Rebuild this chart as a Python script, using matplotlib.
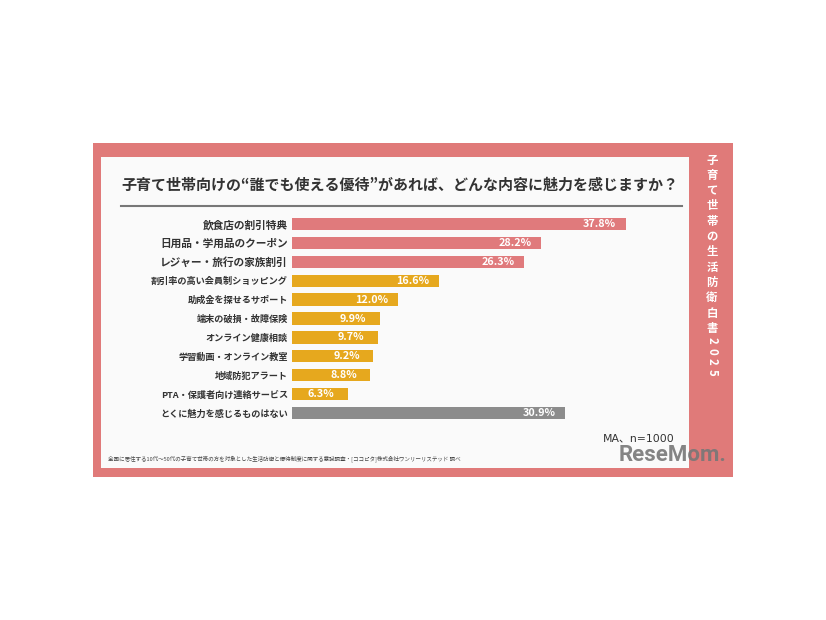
import matplotlib
matplotlib.use("Agg")
import matplotlib.pyplot as plt
from matplotlib.patches import Rectangle
from matplotlib.lines import Line2D

plt.rcParams['font.family'] = ['Noto Sans CJK JP', 'DejaVu Sans']

# ---- data ----
categories = [
    "飲食店の割引特典",
    "日用品・学用品のクーポン",
    "レジャー・旅行の家族割引",
    "割引率の高い会員制ショッピング",
    "助成金を探せるサポート",
    "端末の破損・故障保険",
    "オンライン健康相談",
    "学習動画・オンライン教室",
    "地域防犯アラート",
    "PTA・保護者向け連絡サービス",
    "とくに魅力を感じるものはない",
]
values = [37.8, 28.2, 26.3, 16.6, 12.0, 9.9, 9.7, 9.2, 8.8, 6.3, 30.9]
groups = ["top", "top", "top", "mid", "mid", "mid", "mid", "mid", "mid", "mid", "none"]

title = "子育て世帯向けの“誰でも使える優待”があれば、どんな内容に魅力を感じますか？"
side_title = "子育て世帯の生活防衛白書"
side_year = "2025"
note = "全国に居住する10代～50代の子育て世帯の方を対象とした生活防衛と優待制度に関する意識調査・[ココピタ]株式会社ワンリーリステッド 調べ"
sample = "MA、n=1000"

colors = {"top": "#E07A7C", "mid": "#E6A81E", "none": "#8C8C8C"}

W, H = 826, 620
fig = plt.figure(figsize=(W / 100, H / 100), dpi=100)
fig.patch.set_facecolor("white")

def fx(x):
    return x / W

def fy(y):
    return 1 - y / H

# frame and inner panel
fig.add_artist(Rectangle((fx(93), fy(477)), (733 - 93) / W, (477 - 143) / H,
                         transform=fig.transFigure, facecolor="#E07A79", edgecolor="none", zorder=0))
fig.add_artist(Rectangle((fx(101), fy(468)), (689 - 101) / W, (468 - 157) / H,
                         transform=fig.transFigure, facecolor="#FAFAFA", edgecolor="none", zorder=0))

# title and rule
fig.text(fx(400), fy(185), title, ha="center", va="center", fontsize=10.8,
         fontweight="bold", color="#333333")
fig.add_artist(Line2D([fx(121), fx(682)], [fy(206), fy(206)], transform=fig.transFigure,
                      color="#777777", linewidth=1.5))

# bars axes
px_per_pct = 8.84
ax_left, ax_right = 292, 689
ax_top, ax_bottom = 214.5, 422.5
ax = fig.add_axes([fx(ax_left), fy(ax_bottom), (ax_right - ax_left) / W, (ax_bottom - ax_top) / H])
ax.set_facecolor("none")
ax.set_xlim(0, (ax_right - ax_left) / px_per_pct)
ax.set_ylim(len(categories) - 0.5, -0.5)
ypos = list(range(len(categories)))
ax.barh(ypos, values, height=0.65, color=[colors[g] for g in groups], edgecolor="none")
for s in ax.spines.values():
    s.set_visible(False)
ax.set_xticks([])
ax.set_yticks(ypos)
ax.set_yticklabels(categories)
ax.tick_params(axis="y", length=0, pad=3)
for lab, g in zip(ax.get_yticklabels(), groups):
    lab.set_fontsize(7.7 if g == "top" else 6.6)
    lab.set_fontweight("bold")
    lab.set_color("#333333")

for y, v in zip(ypos, values):
    ax.annotate(f"{v:.1f}%", xy=(v, y), xytext=(-19, 0), textcoords="offset points",
                ha="center", va="center", color="white", fontsize=7.8, fontweight="bold",
                family=["Noto Sans CJK JP"])

# vertical side title
y0 = 160
for i, ch in enumerate(side_title):
    fig.text(fx(712), fy(y0 + i * 15.3), ch, ha="center", va="center", fontsize=8.2,
             fontweight="bold", color="white")
yd = y0 + len(side_title) * 15.3 - 3
for j, ch in enumerate(side_year):
    fig.text(fx(712), fy(yd + j * 10.6), ch, ha="center", va="center", fontsize=8.2,
             fontweight="bold", color="white", rotation=-90)

# notes
fig.text(fx(108), fy(459), note, ha="left", va="center", fontsize=4.0, color="#444444")
fig.text(fx(603), fy(438), sample, ha="left", va="center", fontsize=7.8, color="#333333",
         family=["DejaVu Sans", "Noto Sans CJK JP"])

# watermark
fig.text(fx(672), fy(455), "ReseMom.", ha="center", va="center", fontsize=16,
         fontweight="bold", color="#777777", family=["Roboto", "DejaVu Sans"],
         alpha=0.9)

fig.savefig("out.png", dpi=100)
